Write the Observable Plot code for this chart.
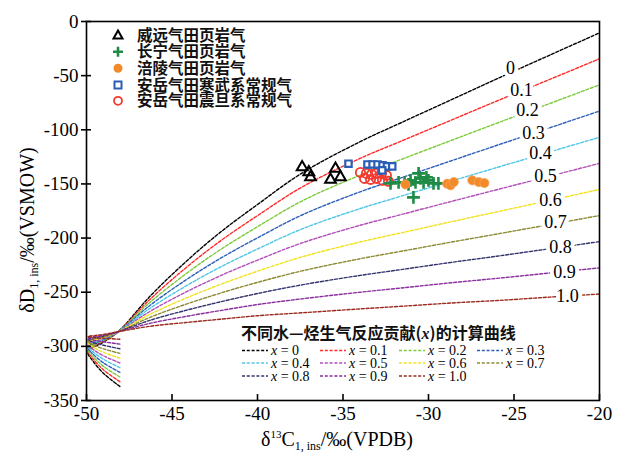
<!DOCTYPE html>
<html><head><meta charset="utf-8">
<script src="https://cdn.jsdelivr.net/npm/d3@7"></script>
<script src="https://cdn.jsdelivr.net/npm/@observablehq/plot@0.6"></script>
<style>
body{margin:0;background:#fff;}
#wrap{position:relative;width:619px;height:454px;}
#wrap svg{position:absolute;left:0;top:0;}
</style></head><body><div id="wrap"></div>
<script>
// ---- data ----
const fractions = [0, 0.1, 0.2, 0.3, 0.4, 0.5, 0.6, 0.7, 0.8, 0.9, 1.0];
const curveNames = ["0", "0.1", "0.2", "0.3", "0.4", "0.5", "0.6", "0.7", "0.8", "0.9", "1.0"];
const curveX = [-48.05, -49.0, -49.6, -49.92, -49.0, -48.15, -46.3, -44.2, -42.2, -40, -37.4, -34, -31.6, -28.7, -25.8, -22.9, -20];
const curve00 = [-337, -325, -314, -305, -296, -286.5, -254, -222, -195, -169, -140, -111, -93.5, -72.5, -51.5, -31, -10.5];
const curve01 = [-332.6, -321.8, -311.8, -303.6, -295.3, -286.5, -256.8, -227.6, -203, -179.3, -152.9, -126.4, -110.5, -91.3, -72.1, -53.4, -34.4];
const curve02 = [-328.3, -318.5, -309.6, -302.2, -294.6, -286.5, -259.5, -233.2, -211, -189.5, -165.8, -141.9, -127.4, -110, -92.7, -75.7, -58.5];
const curve03 = [-324, -315.3, -307.4, -300.8, -293.9, -286.5, -262.3, -238.8, -219, -199.8, -178.7, -157.3, -144.4, -128.8, -113.3, -98.1, -82.7];
const curve04 = [-319.6, -312, -305.2, -299.4, -293.2, -286.5, -265, -244.4, -227, -210.1, -191.6, -172.8, -161.3, -147.5, -133.9, -120.4, -106.9];
const curve05 = [-315.3, -308.8, -303, -298, -292.5, -286.5, -267.8, -250, -235, -220.4, -204.5, -188.2, -178.3, -166.3, -154.5, -142.8, -131];
const curve06 = [-310.9, -305.5, -300.8, -296.6, -291.8, -286.5, -270.5, -255.6, -243, -230.6, -217.4, -203.6, -195.2, -185, -175.1, -165.1, -155.1];
const curve07 = [-306.5, -302.3, -298.6, -295.2, -291.1, -286.5, -273.3, -261.2, -251, -240.9, -230.3, -219.1, -212.2, -203.8, -195.7, -187.5, -179.2];
const curve08 = [-302.2, -299, -296.4, -293.8, -290.4, -286.5, -276, -266.8, -259, -251.2, -243.2, -234.5, -229.1, -222.5, -216.3, -209.8, -203.3];
const curve09 = [-297.9, -295.8, -294.2, -292.4, -289.7, -286.5, -278.8, -272.4, -267, -261.4, -256.1, -250, -246.1, -241.3, -236.9, -232.2, -227.5];
const curve10 = [-293.5, -292.5, -292, -291, -289, -286.5, -281.5, -278, -275, -271.7, -269, -265.4, -263, -260, -257.5, -254.5, -251.7];
const curveY = [curve00, curve01, curve02, curve03, curve04, curve05, curve06, curve07, curve08, curve09, curve10];

const labelX = [-25.2, -24.56, -24.21, -23.86, -23.45, -23.16, -22.87, -22.57, -22.28, -22.05, -21.87];
const labelY = [-43.1, -63.8, -82.3, -103.4, -121.9, -143.0, -165.1, -185.4, -208.4, -231.4, -253.6];

const seriesNames = ["威远气田页岩气", "长宁气田页岩气", "涪陵气田页岩气", "安岳气田寒武系常规气", "安岳气田震旦系常规气"];
const weiyuanX = [-37.39, -37.0, -36.9, -35.44, -35.73, -35.15];
const weiyuanY = [-134.5, -139.1, -143.7, -135.9, -146.1, -143.7];
const changningX = [-32.22, -31.75, -31.40, -31.05, -30.76, -30.58, -30.47, -30.29, -30.12, -30.0, -29.71, -29.42, -30.88, -31.17];
const changningY = [-149.5, -148.6, -148.6, -146.7, -148.6, -140.3, -144.9, -148.6, -143.9, -146.7, -149.5, -149.5, -162.4, -150.4];
const fulingX = [-31.35, -28.91, -28.71, -28.52, -27.44, -27.06, -26.73];
const fulingY = [-150.4, -149.8, -151.3, -148.3, -146.7, -148.3, -149.2];
const anyueCX = [-34.68, -33.57, -33.27, -32.98, -32.69, -32.43, -32.12, -32.71];
const anyueCY = [-131.3, -132, -132, -132, -132.9, -133.8, -133.8, -137.5];
const anyueZX = [-33.98, -33.63, -33.33, -33.04, -32.75, -32.46, -33.74, -33.39, -33.04, -32.69, -32.34];
const anyueZY = [-139.4, -140.3, -141.2, -140.3, -140.3, -142.1, -144.9, -145.8, -144.9, -146.7, -147.6];

const xTicks = [-50, -45, -40, -35, -30, -25, -20];
const yTicks = [-350, -300, -250, -200, -150, -100, -50, 0];

// ---- styles ----
const palette = ["#000000", "#ff2a2a", "#7ccb3a", "#2d5fb8", "#4fc6e6", "#b24fb8", "#f2e21e", "#8c8a32", "#33336e", "#8a2e9e", "#9a2a1e"];

// ---- build tables ----
const curveRows = [];
fractions.forEach((k, i) => curveX.forEach((x, j) => curveRows.push({k: curveNames[i], x, y: curveY[i][j]})));
const labelRows = curveNames.map((t, i) => ({t, x: labelX[i], y: labelY[i]}));
const pts = (xs, ys) => xs.map((x, i) => ({x, y: ys[i]}));

const serif = "'Liberation Serif','Times New Roman',serif";
const plot = Plot.plot({
  width: 619, height: 454,
  marginTop: 21, marginBottom: 54, marginLeft: 86, marginRight: 20,
  style: {fontFamily: serif, fontSize: "19px", background: "white", color: "black"},
  x: {domain: [-50, -20], label: null},
  y: {domain: [-350, 0], label: null},
  color: {type: "ordinal", domain: curveNames, range: palette},
  marks: [
    Plot.line(curveRows, {x: "x", y: "y", z: "k", stroke: "k", curve: "catmull-rom", strokeDasharray: "3,1.8", strokeWidth: 1.4}),
    Plot.text(labelRows, {x: "x", y: "y", text: "t", fill: "black", stroke: "white", strokeWidth: 8, fontSize: 18, fontFamily: serif}),
    Plot.dot(pts(weiyuanX, weiyuanY), {x: "x", y: "y", symbol: "triangle", r: 4, stroke: "black", strokeWidth: 2, fill: "none"}),
    Plot.dot(pts(anyueZX, anyueZY), {x: "x", y: "y", symbol: "circle", r: 4.6, stroke: "#f23a30", strokeWidth: 1.8, fill: "none"}),
    Plot.dot(pts(anyueCX, anyueCY), {x: "x", y: "y", symbol: "square", r: 3.6, stroke: "#2a5db5", strokeWidth: 2.2, fill: "white"}),
    Plot.dot(pts(changningX, changningY), {x: "x", y: "y", symbol: "plus", r: 4.2, stroke: "#1e8c45", strokeWidth: 2.6}),
    Plot.dot(pts(fulingX, fulingY), {x: "x", y: "y", symbol: "circle", r: 4.6, fill: "#f28a2a", stroke: "#f7a560", strokeWidth: 0.8}),
    Plot.frame({stroke: "black", strokeWidth: 1.6}),
    Plot.axisY({ticks: yTicks, tickSize: 10, dx: 5, tickFormat: () => "", strokeWidth: 1.6, label: null}),
    Plot.axisY({ticks: yTicks, tickSize: 0, tickPadding: 8, tickFormat: d => String(d), label: null, fontSize: 19}),
    Plot.axisX({ticks: xTicks, tickSize: 6, dy: -6, tickFormat: () => "", strokeWidth: 1.6, label: null}),
    Plot.axisX({ticks: xTicks, tickSize: 0, tickPadding: 6, tickFormat: d => String(d), label: null, fontSize: 19})
  ]
});
document.getElementById("wrap").appendChild(plot);

// ---- axis titles with sub/superscripts ----
const svg = d3.select(plot);
const yl = svg.append("text").attr("transform", "translate(34,230) rotate(-90)")
  .attr("text-anchor", "middle").style("font-family", serif).style("font-size", "20px").attr("fill", "black");
yl.append("tspan").text("δD");
yl.append("tspan").attr("dy", 4).style("font-size", "12px").text("1, ins");
yl.append("tspan").attr("dy", -4).text("/‰(VSMOW)");
const xl = svg.append("text").attr("x", 337).attr("y", 446)
  .attr("text-anchor", "middle").style("font-family", serif).style("font-size", "20px").attr("fill", "black");
xl.append("tspan").text("δ");
xl.append("tspan").attr("dy", -8).style("font-size", "11px").text("13");
xl.append("tspan").attr("dy", 8).text("C");
xl.append("tspan").attr("dy", 4).style("font-size", "12px").text("1, ins");
xl.append("tspan").attr("dy", -4).text("/‰(VPDB)");

// ---- legends (overlay) ----
const ov = d3.select("#wrap").append("svg").attr("width", 619).attr("height", 454);
const cjk = "'Noto Sans CJK SC',sans-serif";
const legY = [35, 51.7, 68.3, 85, 100.8];
const g1 = ov.append("g");
seriesNames.forEach((n, i) => {
  g1.append("text").attr("x", 137).attr("y", legY[i]).attr("dy", "0.36em")
    .style("font-family", cjk).style("font-weight", 700).style("font-size", "15.5px").attr("fill", "#111").text(n);
});
const sym = (i) => g1.append("g").attr("transform", `translate(118,${legY[i]})`);
sym(0).append("path").attr("d", "M0,-4.5L4.5,3.5L-4.5,3.5Z").attr("fill", "none").attr("stroke", "black").attr("stroke-width", 2);
sym(1).append("path").attr("d", "M-5,0H5M0,-5V5").attr("stroke", "#1e8c45").attr("stroke-width", 2.6);
sym(2).append("circle").attr("r", 4.5).attr("fill", "#f28a2a");
sym(3).append("rect").attr("x", -3.5).attr("y", -3.5).attr("width", 7).attr("height", 7).attr("fill", "white").attr("stroke", "#2a5db5").attr("stroke-width", 2);
sym(4).append("circle").attr("r", 4).attr("fill", "none").attr("stroke", "#f23a30").attr("stroke-width", 1.8);

const g2 = ov.append("g");
g2.append("text").attr("x", 241).attr("y", 333).attr("dy", "0.36em")
  .style("font-family", cjk).style("font-weight", 700).style("font-size", "16px").attr("fill", "#111")
  .html("不同水—烃生气反应贡献(<tspan style=\"font-family:'Liberation Serif';font-style:italic\">x</tspan>)的计算曲线");
const colX = [242, 320, 399, 477];
const rowY = [350.5, 363, 376];
curveNames.forEach((n, i) => {
  const cx = colX[i % 4], cy = rowY[Math.floor(i / 4)];
  g2.append("line").attr("x1", cx).attr("x2", cx + 26).attr("y1", cy).attr("y2", cy)
    .attr("stroke", palette[i]).attr("stroke-width", 1.4).attr("stroke-dasharray", "3,1.8");
  const t = g2.append("text").attr("x", cx + 29).attr("y", cy).attr("dy", "0.35em")
    .style("font-family", serif).style("font-size", "14px").attr("fill", "black");
  t.append("tspan").style("font-style", "italic").text("x");
  t.append("tspan").text(" = " + n);
});
</script></body></html>
